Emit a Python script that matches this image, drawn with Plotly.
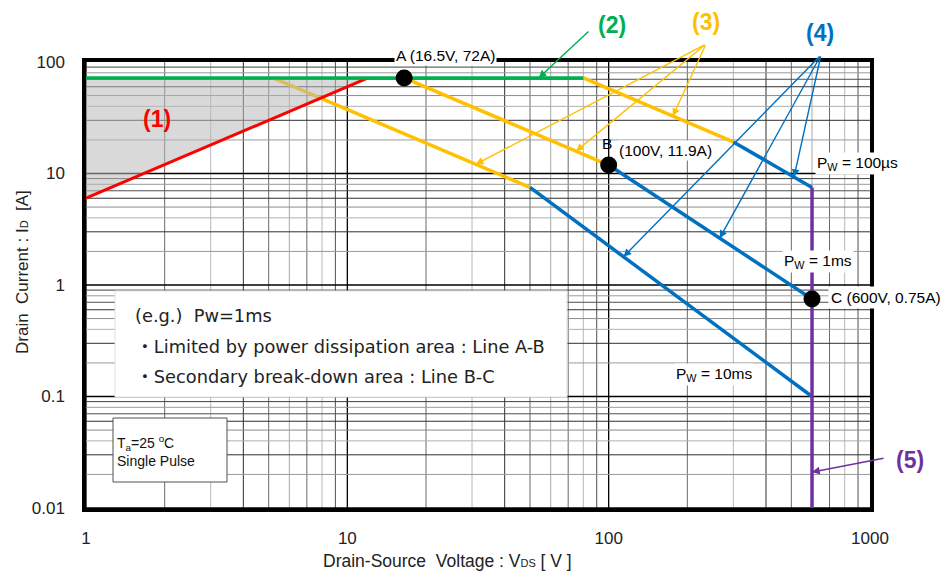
import math
import plotly.graph_objects as go

# ---------------- data ----------------
green_v = [1, 80]
green_i = [72, 72]
red_v = [1, 12]
red_i = [6, 72]
shade_v = [1, 12, 1, 1]
shade_i = [6, 72, 72, 6]
yellow_100us_v = [80, 300]
yellow_100us_i = [72, 19.2]
yellow_1ms_v = [16.5, 100]
yellow_1ms_i = [72, 11.9]
yellow_10ms_v = [5.2, 50]
yellow_10ms_i = [72, 7.5]
blue_100us_v = [300, 600]
blue_100us_i = [19.2, 7.5]
blue_1ms_v = [100, 600]
blue_1ms_i = [11.9, 0.75]
blue_10ms_v = [50, 600]
blue_10ms_i = [7.5, 0.1]
purple_v = [600, 600]
purple_i = [0.01, 7.5]
point_names = ["A", "B", "C"]
point_v = [16.5, 100, 600]
point_i = [72, 11.9, 0.75]
x_ticks = [1, 10, 100, 1000]
x_tick_text = ["1", "10", "100", "1000"]
y_ticks = [0.01, 0.1, 1, 10, 100]
y_tick_text = ["0.01", "0.1", "1", "10", "100"]

YELLOW = "#FFC000"
GREEN = "#00B050"
BLUE = "#0070C0"
PURPLE = "#7030A0"
RED = "#FF0000"

W, H = 946, 572
L, R, T, B = 86, 870, 62, 508
X_LOG = (0, 3)
Y_LOG = (-2, 2)


def px_paper_x(px):
    return (px - L) / (R - L)


def px_paper_y(py):
    return (B - py) / (B - T)


def data_px(v, i):
    px = L + (R - L) * (math.log10(v) - X_LOG[0]) / (X_LOG[1] - X_LOG[0])
    py = B - (B - T) * (math.log10(i) - Y_LOG[0]) / (Y_LOG[1] - Y_LOG[0])
    return px, py


def on_line(v, vs, ivals):
    t = (math.log10(v) - math.log10(vs[0])) / (math.log10(vs[1]) - math.log10(vs[0]))
    return 10 ** (math.log10(ivals[0]) + t * (math.log10(ivals[1]) - math.log10(ivals[0])))


fig = go.Figure()

def line(v, i, color, width=3.5):
    fig.add_trace(go.Scatter(x=v, y=i, mode="lines", line=dict(color=color, width=width),
                             hoverinfo="skip", showlegend=False))

line(yellow_10ms_v, yellow_10ms_i, YELLOW)
line(yellow_1ms_v, yellow_1ms_i, YELLOW)
line(yellow_100us_v, yellow_100us_i, YELLOW)
fig.add_trace(go.Scatter(x=shade_v, y=shade_i, mode="lines", fill="toself",
                         fillcolor="rgba(185,185,185,0.55)", line=dict(width=0),
                         hoverinfo="skip", showlegend=False))
line(red_v, red_i, RED, 3)
line(green_v, green_i, GREEN)
line(blue_10ms_v, blue_10ms_i, BLUE)
line(blue_1ms_v, blue_1ms_i, BLUE)
line(blue_100us_v, blue_100us_i, BLUE)
line(purple_v, purple_i, PURPLE)
fig.add_trace(go.Scatter(x=point_v, y=point_i, mode="markers",
                         marker=dict(color="black", size=17), hoverinfo="skip", showlegend=False))

# ---------------- grid (drawn as shapes) ----------------
shapes = []
x_dark = {2: "#6a6a6a", 3: "#b8b8b8", 4: "#303030", 5: "#6a6a6a", 6: "#a8a8a8",
          7: "#6a6a6a", 8: "#b8b8b8", 9: "#505050"}
y_dark = {2: "#9a9a9a", 3: "#303030", 4: "#b0b0b0", 5: "#8a8a8a", 6: "#303030",
          7: "#505050", 8: "#9a9a9a", 9: "#404040"}
for d in range(X_LOG[0], X_LOG[1]):
    for m in range(1, 10):
        xv = math.log10(m * 10 ** d)
        xp = (xv - X_LOG[0]) / (X_LOG[1] - X_LOG[0])
        col = "#000000" if m == 1 else x_dark[m]
        shapes.append(dict(type="line", xref="paper", yref="paper", x0=xp, x1=xp, y0=0, y1=1,
                           line=dict(color=col, width=1.3 if m == 1 else 1), layer="between"))
for d in range(Y_LOG[0], Y_LOG[1]):
    for m in range(1, 10):
        yv = math.log10(m * 10 ** d)
        yp = (yv - Y_LOG[0]) / (Y_LOG[1] - Y_LOG[0])
        col = "#000000" if m == 1 else y_dark[m]
        shapes.append(dict(type="line", xref="paper", yref="paper", x0=0, x1=1, y0=yp, y1=yp,
                           line=dict(color=col, width=1.3 if m == 1 else 1), layer="between"))

# white text box background
shapes.append(dict(type="rect", xref="paper", yref="paper",
                   x0=px_paper_x(115), x1=px_paper_x(567), y0=px_paper_y(397), y1=px_paper_y(291),
                   fillcolor="white", line=dict(color="#e0e0e0", width=1), layer="between"))
shapes.append(dict(type="rect", xref="paper", yref="paper",
                   x0=px_paper_x(113), x1=px_paper_x(227), y0=px_paper_y(482), y1=px_paper_y(418),
                   fillcolor="white", line=dict(color="#505050", width=1), layer="between"))

ann = []
FONT = "Liberation Sans, Arial, sans-serif"
JFONT = "DejaVu Sans, Noto Sans CJK JP, sans-serif"


def text_px(px, py, text, size, color="black", bold=False, bg=None, xanchor="center", family=FONT):
    a = dict(xref="paper", yref="paper", x=px_paper_x(px), y=px_paper_y(py), text=text,
             showarrow=False, xanchor=xanchor, yanchor="middle", align=xanchor if xanchor != "center" else "center",
             font=dict(family=family, size=size, color=color), borderpad=1)
    if bold:
        a["text"] = "<b>" + text + "</b>"
    if bg:
        a["bgcolor"] = bg
    ann.append(a)


def arrow(v, i, tail_px, tail_py, color):
    hx, hy = data_px(v, i)
    ann.append(dict(xref="x", yref="y", x=math.log10(v), y=math.log10(i), text="",
                    showarrow=True, axref="pixel", ayref="pixel",
                    ax=tail_px - hx, ay=tail_py - hy, arrowhead=2, arrowsize=1.1,
                    arrowwidth=1.4, arrowcolor=color, standoff=0))

# numbered labels
text_px(157, 119, "(1)", 23, RED, True)
text_px(612, 25, "(2)", 23, GREEN, True)
text_px(706, 22, "(3)", 23, YELLOW, True)
text_px(820, 33, "(4)", 23, BLUE, True)
text_px(910, 460, "(5)", 23, PURPLE, True)

# arrows
arrow(54, green_i[0], 590, 30, GREEN)
arrow(176, on_line(176, yellow_100us_v, yellow_100us_i), 706, 44, YELLOW)
arrow(75, on_line(75, yellow_1ms_v, yellow_1ms_i), 706, 44, YELLOW)
arrow(31, on_line(31, yellow_10ms_v, yellow_10ms_i), 706, 44, YELLOW)
arrow(512, on_line(512, blue_100us_v, blue_100us_i), 821, 55, BLUE)
arrow(266, on_line(266, blue_1ms_v, blue_1ms_i), 821, 55, BLUE)
arrow(114, on_line(114, blue_10ms_v, blue_10ms_i), 821, 55, BLUE)
arrow(600, 0.021, 885, 458, PURPLE)

# pulse width labels
text_px(857, 163, "P<sub>W</sub> = 100µs", 15.5, bg="white")
text_px(818, 261, "P<sub>W</sub> = 1ms", 15.5, bg="white")
text_px(714, 374, "P<sub>W</sub> = 10ms", 15.5, bg="white")

# point labels
LBL = 15.5
ann.append(dict(xref="x", yref="y", x=math.log10(point_v[0]), y=math.log10(point_i[0]),
                text="A (16.5V, 72A)", showarrow=False, xanchor="left", yanchor="middle",
                xshift=-10, yshift=22, bgcolor="white", borderpad=1,
                font=dict(family=FONT, size=LBL, color="black")))
ann.append(dict(xref="x", yref="y", x=math.log10(point_v[1]), y=math.log10(point_i[1]),
                text="B", showarrow=False, xanchor="center", yanchor="middle",
                xshift=-2, yshift=22, font=dict(family=FONT, size=LBL, color="black")))
ann.append(dict(xref="x", yref="y", x=math.log10(point_v[1]), y=math.log10(point_i[1]),
                text="(100V, 11.9A)", showarrow=False, xanchor="left", yanchor="middle",
                xshift=8, yshift=15, bgcolor="white", borderpad=1,
                font=dict(family=FONT, size=LBL, color="black")))
ann.append(dict(xref="x", yref="y", x=math.log10(point_v[2]), y=math.log10(point_i[2]),
                text="C (600V, 0.75A)", showarrow=False, xanchor="left", yanchor="middle",
                xshift=16, yshift=1, bgcolor="white", borderpad=2,
                font=dict(family=FONT, size=LBL, color="black")))

# text box
text_px(133, 315, "(e.g.)  Pw=1ms", 17.8, "#222", xanchor="left", family=JFONT)
text_px(134, 346, "・Limited by power dissipation area : Line A-B", 17.8, "#222", xanchor="left", family=JFONT)
text_px(134, 377, "・Secondary break-down area : Line B-C", 17.8, "#222", xanchor="left", family=JFONT)
text_px(115, 451, "T<sub>a</sub>=25 <sup>o</sup>C<br>Single Pulse", 14, "#111", xanchor="left")

# axis titles
ann.append(dict(xref="paper", yref="paper", x=px_paper_x(447), y=px_paper_y(561),
                text="Drain-Source\u00a0\u00a0Voltage : V<span style='font-size:11px'>DS</span> [ V ]",
                showarrow=False, xanchor="center", yanchor="middle",
                font=dict(family=FONT, size=17.5, color="#222")))
ann.append(dict(xref="paper", yref="paper", x=px_paper_x(22), y=px_paper_y(272),
                text="Drain\u00a0\u00a0Current : I<span style='font-size:11px'>D</span>\u00a0 [A]",
                showarrow=False, textangle=-90, xanchor="center", yanchor="middle",
                font=dict(family=FONT, size=17, color="#222")))

fig.update_layout(
    width=W, height=H,
    margin=dict(l=L, r=W - R, t=T, b=H - B, autoexpand=False),
    paper_bgcolor="white", plot_bgcolor="white",
    shapes=shapes, annotations=ann,
    showlegend=False,
)
fig.update_xaxes(type="log", range=list(X_LOG), showgrid=False, zeroline=False,
                 showline=True, mirror=True, linecolor="black", linewidth=3.5,
                 tickvals=x_ticks, ticktext=x_tick_text, ticks="", ticklabelstandoff=12,
                 tickfont=dict(family=FONT, size=17, color="#222"), automargin=False)
fig.update_yaxes(type="log", range=list(Y_LOG), showgrid=False, zeroline=False,
                 showline=True, mirror=True, linecolor="black", linewidth=3.5,
                 tickvals=y_ticks, ticktext=y_tick_text, ticks="", ticklabelstandoff=14,
                 tickfont=dict(family=FONT, size=17, color="#222"), automargin=False)

fig.write_html("out.html", config={"displayModeBar": False},
               post_script="document.body.style.margin='0';document.body.style.overflow='hidden';")
